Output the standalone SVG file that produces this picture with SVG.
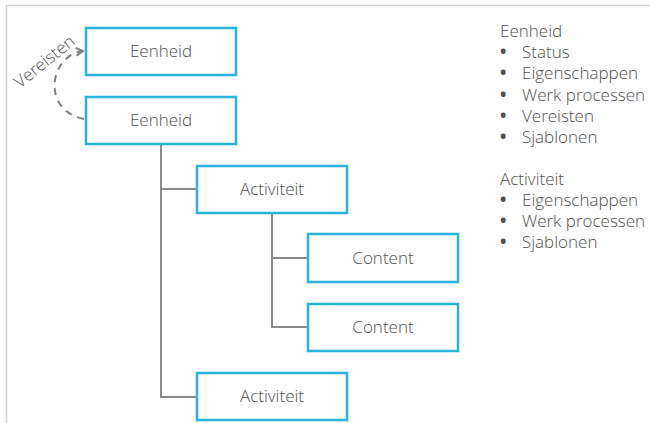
<svg xmlns="http://www.w3.org/2000/svg" width="650" height="423" viewBox="0 0 650 423">
  <style>
    .box { fill: #ffffff; stroke: #2ab4da; stroke-width: 2.5; }
    .lbl { font-family: "Open Sans", "Liberation Sans", sans-serif; font-weight: 300; font-size: 17px; fill: #505050; text-anchor: middle; }
    .side { font-family: "Open Sans", "Liberation Sans", sans-serif; font-weight: 300; font-size: 17px; fill: #505050; }
    .bul { font-weight: 700; }
    .conn { fill: none; stroke: #8a8a8a; stroke-width: 2; }
    .dash { fill: none; stroke: #808080; stroke-width: 2; stroke-dasharray: 7 6; }
  </style>
  <defs>
    <marker id="arr" viewBox="0 0 10 10" refX="8" refY="5" markerWidth="5" markerHeight="5" orient="auto">
      <path d="M1 1 L8 5 L1 9" fill="none" stroke="#808080" stroke-width="2"/>
    </marker>
  </defs>
  <rect width="650" height="423" fill="#ffffff"/>
  <g id="frame">
    <line x1="6" y1="5.5" x2="650" y2="5.5" stroke="#d2d2d2" stroke-width="1.5"/>
    <line x1="6.5" y1="5" x2="6.5" y2="423" stroke="#d2d2d2" stroke-width="1.5"/>
  </g>
  <g id="connectors">
    <path class="conn" d="M161 145 V397 H196"/>
    <path class="conn" d="M161 189 H196"/>
    <path class="conn" d="M272 214 V327 H307"/>
    <path class="conn" d="M272 258 H307"/>
    <path class="dash" d="M84 119 C40 110, 50 55, 83 51" marker-end="url(#arr)"/>
    <text class="lbl" transform="translate(48,66) rotate(-39)" x="0" y="0">Vereisten</text>
  </g>
  <g id="eenheid1">
    <rect class="box" x="86" y="28" width="150" height="47"/>
    <text class="lbl" x="161" y="57">Eenheid</text>
  </g>
  <g id="eenheid2">
    <rect class="box" x="86" y="97" width="150" height="47"/>
    <text class="lbl" x="161" y="126">Eenheid</text>
  </g>
  <g id="activiteit1">
    <rect class="box" x="197" y="166" width="150" height="47"/>
    <text class="lbl" x="272" y="195">Activiteit</text>
  </g>
  <g id="content1">
    <rect class="box" x="308" y="234" width="150" height="48"/>
    <text class="lbl" x="383" y="264">Content</text>
  </g>
  <g id="content2">
    <rect class="box" x="308" y="304" width="150" height="47"/>
    <text class="lbl" x="383" y="333">Content</text>
  </g>
  <g id="activiteit2">
    <rect class="box" x="197" y="373" width="150" height="47"/>
    <text class="lbl" x="272" y="402">Activiteit</text>
  </g>
  <g id="legend">
    <text class="side" x="500" y="37">Eenheid</text>
    <text class="side"><tspan class="bul" x="500" y="58">•</tspan><tspan x="522" y="58">Status</tspan></text>
    <text class="side"><tspan class="bul" x="500" y="79">•</tspan><tspan x="522" y="79">Eigenschappen</tspan></text>
    <text class="side"><tspan class="bul" x="500" y="101">•</tspan><tspan x="522" y="101">Werk processen</tspan></text>
    <text class="side"><tspan class="bul" x="500" y="122">•</tspan><tspan x="522" y="122">Vereisten</tspan></text>
    <text class="side"><tspan class="bul" x="500" y="143">•</tspan><tspan x="522" y="143">Sjablonen</tspan></text>
    <text class="side" x="500" y="185">Activiteit</text>
    <text class="side"><tspan class="bul" x="500" y="206">•</tspan><tspan x="522" y="206">Eigenschappen</tspan></text>
    <text class="side"><tspan class="bul" x="500" y="227">•</tspan><tspan x="522" y="227">Werk processen</tspan></text>
    <text class="side"><tspan class="bul" x="500" y="248">•</tspan><tspan x="522" y="248">Sjablonen</tspan></text>
  </g>
</svg>
